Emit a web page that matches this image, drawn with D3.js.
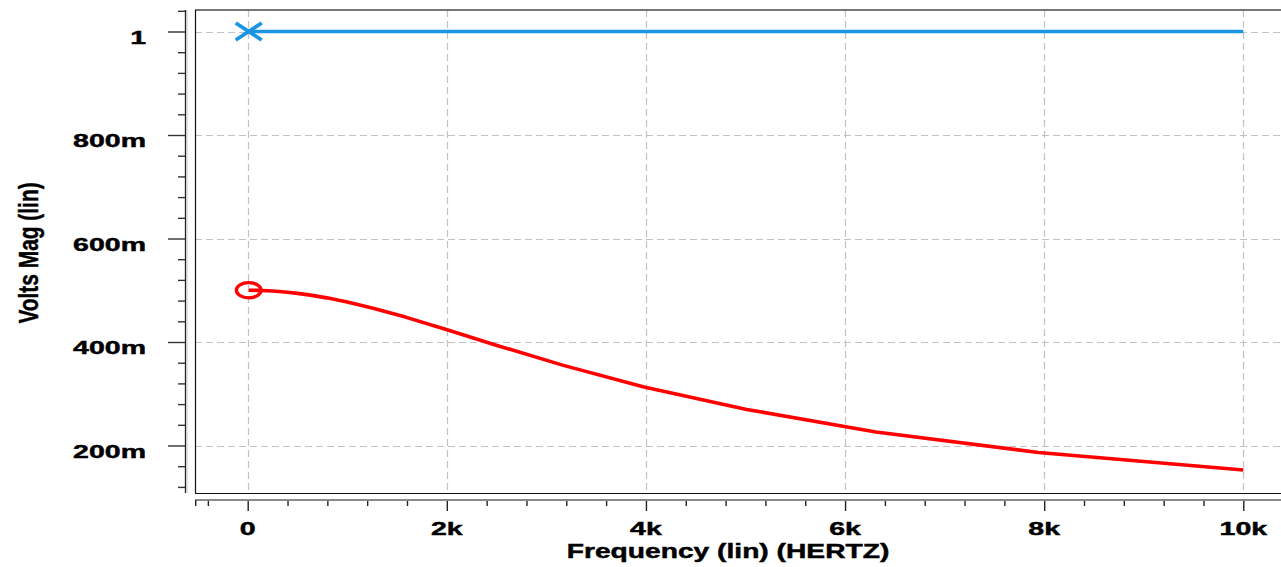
<!DOCTYPE html>
<html>
<head>
<meta charset="utf-8">
<script src="https://cdn.jsdelivr.net/npm/d3@7"></script>
<style>
  html, body { margin: 0; padding: 0; background: #ffffff; }
  svg { display: block; }
  text { font-family: "Liberation Sans", Arial, sans-serif; font-weight: bold; fill: #000; stroke: #000; stroke-width: 0.45px; }
</style>
</head>
<body>
<svg id="chart" width="1281" height="567"></svg>
<script>
// AC sweep points (Hz) and the two traces (V)
const freqHz = [10, 100, 200, 251, 316, 398, 501, 631, 794, 1000, 1259, 1585, 1995, 2512, 3162, 3981, 5012, 6310, 7943, 10000];
const vInput = [1, 1, 1, 1, 1, 1, 1, 1, 1, 1, 1, 1, 1, 1, 1, 1, 1, 1, 1, 1];
const vOutput = [0.5000, 0.4998, 0.4990, 0.4985, 0.4976, 0.4962, 0.4940, 0.4906, 0.4853, 0.4772, 0.4652, 0.4481, 0.4243, 0.3929, 0.3553, 0.3131, 0.2697, 0.2262, 0.1865, 0.1528];

// Axis ticks
const xMajorTicks = [0, 2000, 4000, 6000, 8000, 10000];
const xTickLabels = ["0", "2k", "4k", "6k", "8k", "10k"];
const xMinorTicks = [-400, 400, 800, 1200, 1600, 2400, 2800, 3200, 3600, 4400, 4800, 5200, 5600,
                     6400, 6800, 7200, 7600, 8400, 8800, 9200, 9600];
const yMajorTicks = [0.2, 0.4, 0.6, 0.8, 1.0];
const yTickLabels = ["200m", "400m", "600m", "800m", "1"];
const yMinorTicks = [0.12, 0.16, 0.24, 0.28, 0.32, 0.36, 0.44, 0.48, 0.52, 0.56, 0.64, 0.68, 0.72, 0.76, 0.84, 0.88, 0.92, 0.96, 1.04];

const svg = d3.select("#chart");

// plot frame
const frame = { left: 195, top: 10, right: 1282, bottom: 493 };

const x = d3.scaleLinear().domain([0, 10000]).range([247.7, 1243.3]);
const y = d3.scaleLinear().domain([0, 1]).range([549, 31.5]);

// clip for the traces
svg.append("defs").append("clipPath").attr("id", "plotClip")
  .append("rect")
  .attr("x", frame.left).attr("y", frame.top)
  .attr("width", frame.right - frame.left).attr("height", frame.bottom - frame.top);

// grid
const grid = svg.append("g").attr("stroke", "#c2c2c2").attr("stroke-width", 1.2)
  .attr("stroke-dasharray", "7,4");
grid.selectAll("line.h").data(yMajorTicks).join("line")
  .attr("x1", frame.left).attr("x2", frame.right)
  .attr("y1", d => Math.round(y(d)) + 0.5).attr("y2", d => Math.round(y(d)) + 0.5);
grid.selectAll("line.v").data(xMajorTicks).join("line")
  .attr("y1", frame.top).attr("y2", frame.bottom)
  .attr("x1", d => Math.round(x(d)) + 0.5).attr("x2", d => Math.round(x(d)) + 0.5);

// frame lines
svg.append("line").attr("x1", frame.left).attr("x2", frame.right).attr("y1", frame.top).attr("y2", frame.top)
  .attr("stroke", "#4a4a4a").attr("stroke-width", 1.5);
svg.append("line").attr("x1", frame.left + 0.5).attr("x2", frame.left + 0.5).attr("y1", frame.top).attr("y2", frame.bottom)
  .attr("stroke", "#111").attr("stroke-width", 1.2);
svg.append("line").attr("x1", frame.left).attr("x2", frame.right).attr("y1", frame.bottom + 0.5).attr("y2", frame.bottom + 0.5)
  .attr("stroke", "#111").attr("stroke-width", 1.2);

// y axis (separate line left of the frame)
const yAxisX = 185;
const yMajorAxis = d3.axisLeft(y).tickValues(yMajorTicks).tickSize(17).tickFormat("");
const yMinorAxis = d3.axisLeft(y).tickValues(yMinorTicks).tickSize(7).tickFormat("");
const gy = svg.append("g").attr("transform", `translate(${yAxisX},0)`);
gy.append("g").call(yMajorAxis);
gy.append("g").call(yMinorAxis);
gy.selectAll(".domain").remove();
gy.selectAll("line").attr("stroke", "#333").attr("stroke-width", 1.4);
svg.append("line").attr("x1", yAxisX + 0.5).attr("x2", yAxisX + 0.5).attr("y1", frame.top).attr("y2", frame.bottom)
  .attr("stroke", "#222").attr("stroke-width", 1.3);
svg.append("line").attr("x1", yAxisX + 2).attr("x2", yAxisX + 2).attr("y1", frame.top).attr("y2", frame.bottom)
  .attr("stroke", "#c8c8c8").attr("stroke-width", 1);

svg.append("g").selectAll("text").data(yMajorTicks).join("text")
  .attr("text-anchor", "end")
  .attr("font-size", 19)
  .attr("transform", d => `translate(146,${y(d) + 12}) scale(1.5,1)`)
  .text((d, i) => yTickLabels[i]);

// x axis (separate line below the frame)
const xAxisY = 500;
const xMajorAxis = d3.axisBottom(x).tickValues(xMajorTicks).tickSize(11).tickFormat("");
const xMinorAxis = d3.axisBottom(x).tickValues(xMinorTicks).tickSize(6).tickFormat("");
const gx = svg.append("g").attr("transform", `translate(0,${xAxisY})`);
gx.append("g").call(xMajorAxis);
gx.append("g").call(xMinorAxis);
gx.selectAll(".domain").remove();
gx.selectAll("line").attr("stroke", "#222").attr("stroke-width", 1.4);
svg.append("line").attr("x1", frame.left).attr("x2", frame.right).attr("y1", xAxisY).attr("y2", xAxisY)
  .attr("stroke", "#8a8a8a").attr("stroke-width", 2);
svg.append("line").attr("x1", frame.left + 0.7).attr("x2", frame.left + 0.7).attr("y1", xAxisY).attr("y2", xAxisY + 6)
  .attr("stroke", "#222").attr("stroke-width", 1.4);

svg.append("g").selectAll("text").data(xMajorTicks).join("text")
  .attr("text-anchor", "middle")
  .attr("font-size", 19)
  .attr("transform", d => `translate(${x(d)},535) scale(1.5,1)`)
  .text((d, i) => xTickLabels[i]);

// axis titles
svg.append("text")
  .attr("text-anchor", "middle").attr("font-size", 20)
  .attr("transform", "translate(728,558) scale(1.41,1)")
  .text("Frequency (lin) (HERTZ)");
svg.append("text")
  .attr("text-anchor", "middle").attr("font-size", 19)
  .style("stroke-width", "0.3px")
  .attr("transform", "translate(38,253) rotate(-90) scale(1.1,1.5)")
  .text("Volts Mag (lin)");

// traces (straight segments between sweep points)
const line = d3.line().x((d, i) => x(freqHz[i])).y(d => y(d));
const traces = svg.append("g").attr("clip-path", "url(#plotClip)");
traces.append("path").datum(vInput)
  .attr("fill", "none").attr("stroke", "#1b95e3").attr("stroke-width", 3.6)
  .attr("d", line);
traces.append("path").datum(vOutput)
  .attr("fill", "none").attr("stroke", "#ff0000").attr("stroke-width", 3.6)
  .attr("stroke-linejoin", "round")
  .attr("d", line);

// trace markers at the first sweep point
const bx = x(freqHz[0]), by = y(vInput[0]);
svg.append("path")
  .attr("d", `M${bx - 13},${by - 8.5}L${bx + 13},${by + 8.5}M${bx - 13},${by + 8.5}L${bx + 13},${by - 8.5}`)
  .attr("stroke", "#1b95e3").attr("stroke-width", 3.8).attr("fill", "none");
svg.append("ellipse")
  .attr("cx", x(freqHz[0])).attr("cy", y(vOutput[0]))
  .attr("rx", 12.3).attr("ry", 7.6)
  .attr("fill", "none").attr("stroke", "#ff0000").attr("stroke-width", 3.4);
</script>
</body>
</html>
